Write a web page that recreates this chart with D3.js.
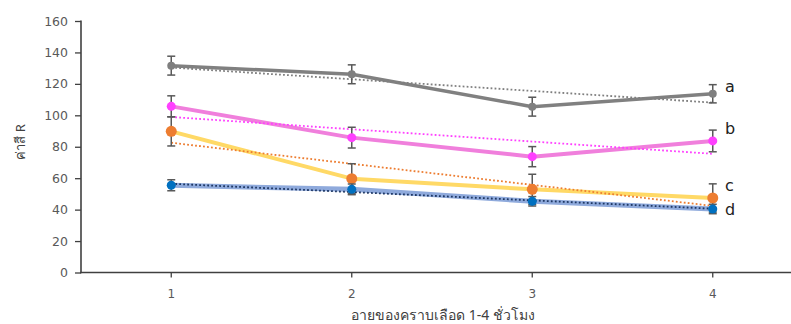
<!DOCTYPE html>
<html><head><meta charset="utf-8">
<script src="https://cdn.jsdelivr.net/npm/d3@7"></script>
<style>body{margin:0;background:#fff;} svg{display:block;}</style>
</head><body>
<svg id="c" width="791" height="324"></svg>
<script>
const categories = ["1","2","3","4"];
const yTicks = [0,20,40,60,80,100,120,140,160];
const seriesNames = ["a","b","c","d"];
const valuesA = [131.6,126.1,105.5,113.7];
const valuesB = [105.7,85.8,73.7,83.7];
const valuesC = [89.8,59.7,52.9,47.4];
const valuesD = [55.5,52.9,45.3,40.4];
const errA = [6,6,6,5.8];
const errB = [6.7,6.6,6.4,6.9];
const errC = [9.3,9.5,9.6,9];
const errD = [3.5,3.4,3,3];
const xTitle = "อายของคราบเลือด 1-4 ชั่วโมง";
const yTitle = "ค่าสี R";

const styles = [
  {line:"#808080", marker:"#7f7f7f", trend:"#7f7f7f", lw:3.5, r:4},
  {line:"#f07fdc", marker:"#ff40ff", trend:"#ff40ff", lw:4, r:4.5},
  {line:"#ffd966", marker:"#ed7d31", trend:"#ed7d31", lw:4, r:5.5},
  {line:"#8faadc", marker:"#0070c0", trend:"#1f3864", lw:5, r:4.5}
];
const series = [
  {name:seriesNames[0], v:valuesA, e:errA},
  {name:seriesNames[1], v:valuesB, e:errB},
  {name:seriesNames[2], v:valuesC, e:errC},
  {name:seriesNames[3], v:valuesD, e:errD}
];

const svg = d3.select("#c");
const x = d3.scaleBand().domain(categories).range([81, 803]);
const xc = d => x(d) + x.bandwidth()/2;
const y = d3.scaleLinear().domain([0,160]).range([272.5, 21]);

// axes
const yAxis = svg.append("g").attr("transform","translate(81,0)")
  .call(d3.axisLeft(y).tickValues(yTicks).tickSize(6).tickPadding(7));
yAxis.select(".domain").attr("stroke","#404040").attr("stroke-width",1.6).attr("d","M0,20.5V273.2");
yAxis.selectAll(".tick line").attr("stroke","#404040").attr("stroke-width",1.3);
yAxis.selectAll("text").attr("fill","#595959").style("font-family","'DejaVu Sans', sans-serif").style("font-size","12.5px");

const xAxis = svg.append("g").attr("transform","translate(0,272.5)")
  .call(d3.axisBottom(x).tickSize(5).tickPadding(12));
xAxis.select(".domain").attr("stroke","#404040").attr("stroke-width",1.6).attr("d","M80,0H791");
xAxis.selectAll(".tick line").attr("stroke","#404040").attr("stroke-width",1.3);
xAxis.selectAll("text").attr("fill","#595959").style("font-family","'DejaVu Sans', sans-serif").style("font-size","12px");

// titles
svg.append("text").attr("x",443).attr("y",320).attr("text-anchor","middle")
  .attr("fill","#404040").style("font-family","'Noto Sans', 'DejaVu Sans', sans-serif").style("font-size","14px").text(xTitle);
svg.append("text").attr("transform","translate(25,142) rotate(-90)").attr("text-anchor","middle")
  .attr("fill","#404040").style("font-family","'Noto Sans', 'DejaVu Sans', sans-serif").style("font-size","13px").text(yTitle);

const line = d3.line().x((d,i)=>xc(categories[i])).y(d=>y(d));

function trend(v){
  const n=v.length, xs=v.map((d,i)=>i+1);
  const mx=d3.mean(xs), my=d3.mean(v);
  const b=d3.sum(xs.map((xx,i)=>(xx-mx)*(v[i]-my)))/d3.sum(xs.map(xx=>(xx-mx)**2));
  const a=my-b*mx;
  return [a+b*1, a+b*n];
}

series.forEach((s,k)=>{
  const st=styles[k];
  const g=svg.append("g");
  g.append("path").attr("d",line(s.v)).attr("fill","none").attr("stroke",st.line)
    .attr("stroke-width",st.lw).attr("stroke-linejoin","round");
  const t=trend(s.v);
  g.append("line").attr("x1",xc(categories[0])).attr("x2",xc(categories[3]))
    .attr("y1",y(t[0])).attr("y2",y(t[1])).attr("stroke",st.trend).attr("stroke-width",1.8)
    .attr("stroke-dasharray","1.8,2.2");
  s.v.forEach((v,i)=>{
    const cx=xc(categories[i]);
    g.append("line").attr("x1",cx).attr("x2",cx).attr("y1",y(v+s.e[i])).attr("y2",y(v-s.e[i]))
      .attr("stroke","#595959").attr("stroke-width",1.5);
    [v+s.e[i], v-s.e[i]].forEach(w=>{
      g.append("line").attr("x1",cx-4).attr("x2",cx+4).attr("y1",y(w)).attr("y2",y(w))
        .attr("stroke","#595959").attr("stroke-width",1.5);
    });
  });
  g.selectAll("circle").data(s.v).join("circle")
    .attr("cx",(d,i)=>xc(categories[i])).attr("cy",d=>y(d)).attr("r",st.r).attr("fill",st.marker);
});

// series labels
const labelY = [91.7,134,190.7,215];
svg.selectAll("text.lbl").data(seriesNames).join("text").attr("class","lbl")
  .attr("x",725).attr("y",(d,i)=>labelY[i]).attr("fill","#222")
  .style("font-family","'DejaVu Sans', sans-serif").style("font-size","16px").text(d=>d);
</script>
</body></html>
